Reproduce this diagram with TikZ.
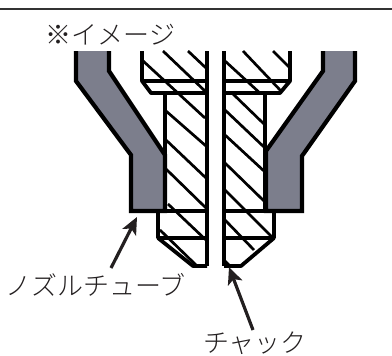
\documentclass[tikz,border=0pt]{standalone}
\usepackage{fontspec}
\setmainfont{Noto Sans CJK JP Light}
\usetikzlibrary{arrows.meta}
\definecolor{tubegray}{HTML}{7C7E8C}
\definecolor{inkdark}{HTML}{231F20}
\tikzset{
  tube/.style={line width=4.2pt,draw=black,line join=miter},
  chuck/.style={line width=3.8pt,draw=black,line join=round},
  hatch/.style={line width=2.7pt,draw=black},
  label/.style={font=\fontsize{26}{27}\selectfont,text=inkdark,inner sep=0pt},
  pointer/.style={line width=3.2pt,draw=inkdark,-{Stealth[length=17pt,width=15pt,inset=4pt]}},
  rule/.style={line width=2.4pt,draw=black!80}
}
\begin{document}
\begin{tikzpicture}[x=1pt,y=-1pt]
\useasboundingbox (0,0) rectangle (392,356);
% top rule
\coordinate (ruleL) at (0,9);
\coordinate (ruleR) at (392,9);
\draw[rule] (ruleL) -- (ruleR);
% hatching, left half
\draw[hatch] (142,60) -- (205,118);
\draw[hatch] (163,51) -- (206,92);
\draw[hatch] (188,51) -- (206,68);
\draw[hatch] (166,111) -- (206,146);
\draw[hatch] (166,140) -- (206,178);
\draw[hatch] (166,169) -- (206,208);
\draw[hatch] (168,204) -- (206,240);
\draw[hatch] (160,230) -- (196,265);
% hatching, right half
\draw[hatch] (225,61) -- (261,94);
\draw[hatch] (243,51) -- (281,91);
\draw[hatch] (273,51) -- (290,68);
\draw[hatch] (232,93) -- (264,124);
\draw[hatch] (225,110) -- (264,147);
\draw[hatch] (225,135) -- (264,171);
\draw[hatch] (225,163) -- (264,201);
\draw[hatch] (225,190) -- (273,238);
\draw[hatch] (225,220) -- (254,250);
% chuck outline, left half
\draw[chuck] (142,51) -- (142,81) -- (151,93) -- (207,93);
\draw[chuck] (142,81) -- (207,81);
\draw[chuck] (165,93) -- (165,211) -- (207,211);
\draw[chuck] (158,211) -- (158,238) -- (207,238);
\draw[chuck] (158,238) -- (193,266) -- (207,266);
\draw[chuck] (207,51) -- (207,266);
% chuck outline, right half
\draw[chuck] (290,51) -- (290,81) -- (280,93) -- (224,93);
\draw[chuck] (290,81) -- (224,81);
\draw[chuck] (265,93) -- (265,211) -- (224,211);
\draw[chuck] (274,211) -- (274,238) -- (224,238);
\draw[chuck] (274,238) -- (241,266) -- (224,266);
\draw[chuck] (224,51) -- (224,266);
\fill[black] (224,258) -- (232,266) -- (224,267) -- cycle;
% left tube
\fill[tubegray] (76,51) -- (76,81) -- (131,155) -- (131,211) -- (165,211) -- (165,155) -- (109,71) -- (109,51) -- cycle;
\draw[tube] (76,51) -- (76,81) -- (131,155) -- (131,211) -- (165,211) -- (165,155) -- (109,71) -- (109,51);
% right tube
\fill[tubegray] (355,51) -- (355,81) -- (302,156) -- (302,211) -- (266,211) -- (266,151) -- (323,71) -- (323,51) -- cycle;
\draw[tube] (355,51) -- (355,81) -- (302,156) -- (302,211) -- (266,211) -- (266,151) -- (323,71) -- (323,51);
% labels
\node[label] (image) at (110.5,35) {※イメージ};
\node[label] (nozzle) at (95.5,285) {ノズルチューブ};
\node[label] (chucklabel) at (255,343) {チャック};
\coordinate (nozzleTip) at (137,217);
\coordinate (nozzleTail) at (111,268);
\coordinate (chuckTip) at (229,267);
\coordinate (chuckTail) at (253,330);
\draw[pointer] (nozzleTail) -- (nozzleTip);
\draw[pointer] (chuckTail) -- (chuckTip);
\end{tikzpicture}
\end{document}
